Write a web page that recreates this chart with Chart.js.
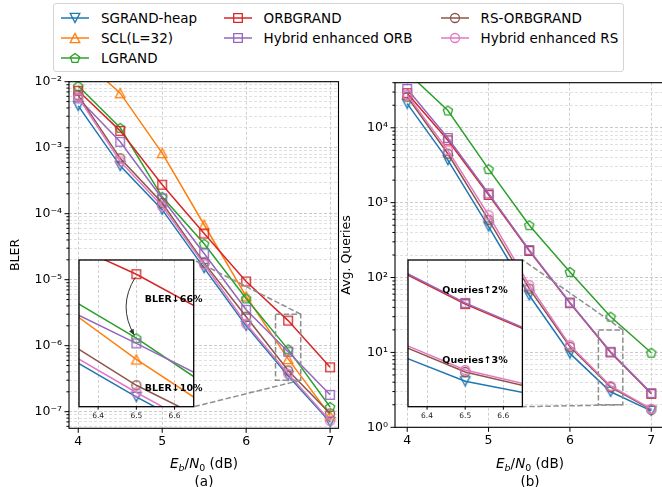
<!DOCTYPE html>
<html>
<head>
<meta charset="utf-8">
<script src="https://cdn.jsdelivr.net/npm/chart.js@4.4.1/dist/chart.umd.min.js"></script>
<style>
  html, body { margin: 0; padding: 0; background: #fff; }
  body { width: 662px; height: 487px; position: relative; overflow: hidden; font-family: "DejaVu Sans", sans-serif; color: #000; }
  canvas { position: absolute; }
  #legend { position: absolute; left: 53px; top: 3px; width: 571px; height: 69px; border: 1px solid #d4d4d4; border-radius: 3px; box-sizing: border-box; background: #fff; }
  .lg-text { position: absolute; font-size: 13.5px; line-height: 16px; white-space: nowrap; }
  .xlab { position: absolute; width: 260px; text-align: center; font-size: 13.5px; line-height: 16px; white-space: nowrap; }
  .xlab sub { font-size: 70%; vertical-align: -0.3em; line-height: 0; }
</style>
</head>
<body>
<div id="legend"></div>
<canvas id="left" width="345" height="487" style="left:0;top:0"></canvas>
<canvas id="right" width="340" height="487" style="left:330px;top:0"></canvas>
<canvas id="leftInset" width="170" height="180"></canvas>
<canvas id="rightInset" width="170" height="180"></canvas>
<div class="xlab" style="left:74px;top:455px"><i>E</i><sub><i>b</i></sub>/<i>N</i><sub>0</sub> (dB)</div>
<div class="xlab" style="left:74px;top:473px">(a)</div>
<div class="xlab" style="left:400px;top:455px"><i>E</i><sub><i>b</i></sub>/<i>N</i><sub>0</sub> (dB)</div>
<div class="xlab" style="left:400px;top:473px">(b)</div>
<script>
// Eb/N0 points (dB)
const snr = [4, 4.5, 5, 5.5, 6, 6.5, 7];

// (a) BLER
const blerSgrand = [4.3e-3, 5.3e-4, 1.15e-4, 1.5e-5, 2.0e-6, 3.5e-7, 7.0e-8];
const blerScl = [2.5e-2, 6.7e-3, 8.3e-4, 6.8e-5, 5.6e-6, 6.3e-7, 8.8e-8];
const blerLgrand = [8.6e-3, 2.0e-3, 1.8e-4, 3.5e-5, 5.2e-6, 8.8e-7, 1.18e-7];
const blerOrb = [7.3e-3, 1.8e-3, 2.75e-4, 5.0e-5, 9.4e-6, 2.4e-6, 4.7e-7];
const blerHybOrb = [5.6e-3, 1.23e-3, 1.7e-4, 2.5e-5, 3.5e-6, 8.1e-7, 1.8e-7];
const blerRsOrb = [6.2e-3, 6.9e-4, 1.45e-4, 1.8e-5, 2.75e-6, 4.2e-7, 9.4e-8];
const blerHybRs = [5.8e-3, 6.2e-4, 1.3e-4, 1.7e-5, 2.15e-6, 3.75e-7, 7.3e-8];

// (b) average number of queries
const qSgrand = [2.1e4, 3.7e3, 4.8e2, 58, 9.7, 2.98, 1.66];
const qLgrand = [5.5e4, 1.7e4, 2.8e3, 5.0e2, 119, 30, 9.9];
const qOrb = [2.9e4, 6.8e3, 1.27e3, 2.27e2, 45.5, 10.0, 2.8];
const qHybOrb = [3.3e4, 7.3e3, 1.33e3, 2.33e2, 46.5, 10.2, 2.86];
const qRsOrb = [2.6e4, 4.5e3, 5.9e2, 71, 11.9, 3.45, 1.72];
const qHybRs = [2.75e4, 5.0e3, 6.8e2, 79, 12.5, 3.56, 1.76];

// ticks
const xTicks = [4, 5, 6, 7];
const insetTicks = [6.4, 6.5, 6.6];

const series = [
  { label: 'SGRAND-heap', color: '#1f77b4', marker: 'v', bler: blerSgrand, q: qSgrand },
  { label: 'SCL(L=32)', color: '#ff7f0e', marker: '^', bler: blerScl, q: null },
  { label: 'LGRAND', color: '#2ca02c', marker: 'p', bler: blerLgrand, q: qLgrand },
  { label: 'ORBGRAND', color: '#d62728', marker: 's', bler: blerOrb, q: qOrb },
  { label: 'Hybrid enhanced ORB', color: '#9467bd', marker: 's', bler: blerHybOrb, q: qHybOrb },
  { label: 'RS-ORBGRAND', color: '#8c564b', marker: 'o', bler: blerRsOrb, q: qRsOrb },
  { label: 'Hybrid enhanced RS', color: '#e377c2', marker: 'o', bler: blerHybRs, q: qHybRs }
];

Chart.defaults.font.family = '"DejaVu Sans", sans-serif';
Chart.defaults.color = '#000';

function markerCanvas(shape, color) {
  const c = document.createElement('canvas');
  c.width = 14; c.height = 14;
  const g = c.getContext('2d');
  const m = 7;
  g.strokeStyle = color;
  g.lineWidth = 1.3;
  g.lineJoin = 'miter';
  g.beginPath();
  if (shape === 'v') {
    g.moveTo(m - 4.8, m - 4.6); g.lineTo(m + 4.8, m - 4.6); g.lineTo(m, m + 4.6); g.closePath();
  } else if (shape === '^') {
    g.moveTo(m - 4.8, m + 4.6); g.lineTo(m + 4.8, m + 4.6); g.lineTo(m, m - 4.6); g.closePath();
  } else if (shape === 's') {
    g.rect(m - 4.3, m - 4.3, 8.6, 8.6);
  } else if (shape === 'o') {
    g.arc(m, m, 4.5, 0, Math.PI * 2);
  } else if (shape === 'p') {
    for (let k = 0; k < 5; k++) {
      const a = -Math.PI / 2 + k * 2 * Math.PI / 5;
      const px = m + 4.9 * Math.cos(a), py = m + 0.4 + 4.9 * Math.sin(a);
      if (k === 0) g.moveTo(px, py); else g.lineTo(px, py);
    }
    g.closePath();
  }
  g.stroke();
  return c;
}
series.forEach(s => { s.icon = markerCanvas(s.marker, s.color); });

const SUP = { '-': '\u207b', '0': '\u2070', '1': '\u00b9', '2': '\u00b2', '3': '\u00b3', '4': '\u2074', '5': '\u2075', '6': '\u2076', '7': '\u2077', '8': '\u2078', '9': '\u2079' };
function powLabel(v) {
  const l = Math.log10(v), e = Math.round(l);
  if (Math.abs(l - e) > 1e-6) return '';
  return '10' + String(e).split('').map(c => SUP[c]).join('');
}
function logTicks(min, max) {
  const out = [];
  for (let e = Math.floor(Math.log10(min)); e <= Math.ceil(Math.log10(max)); e++) {
    for (let m = 1; m <= 9; m++) {
      const v = m * Math.pow(10, e);
      if (v >= min * 0.9999 && v <= max * 1.0001) out.push({ value: v });
    }
  }
  return out;
}

function makeDatasets(key) {
  return series.filter(s => s[key]).map((s, i, arr) => ({
    label: s.label,
    data: snr.map((x, j) => ({ x: x, y: s[key][j] })),
    borderColor: s.color,
    backgroundColor: 'transparent',
    borderWidth: 1.5,
    pointStyle: s.icon,
    pointRadius: 5,
    pointHoverRadius: 5,
    tension: 0,
    fill: false,
    clip: 0,
    order: arr.length - i
  }));
}

// frame, tick marks, optional white background
const framePlugin = {
  id: 'frame',
  beforeDraw(chart, args, o) {
    if (!o.fill) return;
    const a = chart.chartArea, ctx = chart.ctx;
    ctx.save(); ctx.fillStyle = '#fff'; ctx.fillRect(a.left, a.top, a.width, a.height); ctx.restore();
  },
  afterDraw(chart, args, o) {
    const { ctx, chartArea: a, scales } = chart;
    ctx.save();
    ctx.strokeStyle = '#000';
    ctx.lineWidth = 1;
    ctx.beginPath();
    scales.x.ticks.forEach(t => {
      const p = scales.x.getPixelForValue(t.value);
      ctx.moveTo(p, a.bottom); ctx.lineTo(p, a.bottom + o.major);
    });
    if (scales.y.options.display) {
      scales.y.ticks.forEach(t => {
        const p = scales.y.getPixelForValue(t.value);
        const len = powLabel(t.value) ? o.major : o.minor;
        ctx.moveTo(a.left, p); ctx.lineTo(a.left - len, p);
      });
    }
    ctx.stroke();
    ctx.lineWidth = o.frameWidth;
    ctx.strokeRect(a.left, a.top, a.width, a.height);
    ctx.restore();
  }
};

// dashed zoom rectangle plus connector lines to the inset
const zoomPlugin = {
  id: 'zoomBox',
  afterDatasetsDraw(chart, args, o) {
    if (!o.box) return;
    const { ctx, scales: { x, y } } = chart;
    const x0 = x.getPixelForValue(o.box.x0), x1 = x.getPixelForValue(o.box.x1);
    const yb = y.getPixelForValue(o.box.y0), yt = y.getPixelForValue(o.box.y1);
    ctx.save();
    ctx.strokeStyle = '#8f8f8f';
    ctx.lineWidth = 1.5;
    ctx.setLineDash([5.5, 2.5]);
    ctx.strokeRect(x0, yt, x1 - x0, yb - yt);
    const ix = o.inset.right - o.offsetX;
    ctx.beginPath();
    ctx.moveTo(x1, yt); ctx.lineTo(ix, o.inset.top);
    ctx.moveTo(x1, yb); ctx.lineTo(ix, o.inset.bottom);
    ctx.stroke();
    ctx.restore();
  }
};

// annotation text and arrow inside insets
const notePlugin = {
  id: 'notes',
  afterDatasetsDraw(chart, args, o) {
    const { ctx, scales: { x, y } } = chart;
    ctx.save();
    if (o.arrow) {
      const px = x.getPixelForValue(o.arrow.x);
      const y0 = y.getPixelForValue(o.arrow.from) + 3;
      const y1 = y.getPixelForValue(o.arrow.to) - 3;
      const cx = px - 19, cy = (y0 + y1) / 2;
      ctx.strokeStyle = '#333'; ctx.fillStyle = '#333'; ctx.lineWidth = 1;
      ctx.beginPath(); ctx.moveTo(px - 1, y0); ctx.quadraticCurveTo(cx, cy, px - 2, y1); ctx.stroke();
      const ang = Math.atan2(y1 - cy, px - 2 - cx);
      ctx.beginPath();
      ctx.moveTo(px - 2, y1);
      ctx.lineTo(px - 2 - 6 * Math.cos(ang) + 2.6 * Math.sin(ang), y1 - 6 * Math.sin(ang) - 2.6 * Math.cos(ang));
      ctx.lineTo(px - 2 - 6 * Math.cos(ang) - 2.6 * Math.sin(ang), y1 - 6 * Math.sin(ang) + 2.6 * Math.cos(ang));
      ctx.closePath(); ctx.fill();
    }
    ctx.fillStyle = '#000';
    ctx.font = 'bold 9.5px "DejaVu Sans"';
    ctx.textBaseline = 'middle';
    ctx.textAlign = 'left';
    (o.texts || []).forEach(t => ctx.fillText(t.text, x.getPixelForValue(t.x), y.getPixelForValue(t.y)));
    ctx.restore();
  }
};

const gridColor = c => (c.tick && powLabel(c.tick.value)) ? '#bcbcbc' : '#d8d8d8';

function mainChart(id, key, cfg) {
  return new Chart(document.getElementById(id), {
    type: 'line',
    data: { datasets: makeDatasets(key) },
    options: {
      animation: false, responsive: false, devicePixelRatio: 1,
      events: [],
      layout: { padding: cfg.padding },
      plugins: {
        legend: { display: false }, tooltip: { enabled: false },
        frame: { major: 4.5, minor: 2.6, frameWidth: 1.1 },
        zoomBox: cfg.zoom
      },
      scales: {
        x: {
          type: 'linear', min: cfg.xmin, max: cfg.xmax, bounds: 'data',
          afterBuildTicks: s => { s.ticks = xTicks.map(v => ({ value: v })); },
          afterFit: s => { s.height = cfg.xHeight; },
          ticks: { autoSkip: false, maxRotation: 0, padding: 6, font: { size: 12.5 }, callback: v => String(v) },
          grid: { color: '#c4c4c4', lineWidth: 0.8, drawTicks: false },
          border: { display: false, dash: [3, 2] }
        },
        y: {
          type: 'logarithmic', min: cfg.ymin, max: cfg.ymax, bounds: 'data',
          afterBuildTicks: s => { s.ticks = logTicks(cfg.ymin, cfg.ymax); },
          afterFit: s => { s.width = cfg.yWidth; },
          ticks: { autoSkip: false, padding: 7, font: { size: 12.5 }, callback: v => powLabel(v) },
          grid: { color: gridColor, lineWidth: 0.8, drawTicks: false },
          border: { display: false, dash: [3, 2] },
          title: { display: true, text: cfg.ytitle, font: { size: 12.5 }, padding: { top: cfg.titlePad, bottom: 0 } }
        }
      }
    },
    plugins: [framePlugin, zoomPlugin]
  });
}

function insetChart(id, key, box, cfg) {
  const cv = document.getElementById(id);
  const cl = box.left - 10, ct = box.top - 10;
  cv.style.left = cl + 'px'; cv.style.top = ct + 'px';
  return new Chart(cv, {
    type: 'line',
    data: { datasets: makeDatasets(key) },
    options: {
      animation: false, responsive: false, devicePixelRatio: 1,
      events: [],
      layout: { padding: { left: 10, top: 10, right: 170 - 10 - (box.right - box.left), bottom: 0 } },
      plugins: {
        legend: { display: false }, tooltip: { enabled: false },
        frame: { fill: true, major: 3, minor: 2, frameWidth: 1.3 },
        notes: cfg.notes
      },
      scales: {
        x: {
          type: 'linear', min: 6.35, max: 6.65, bounds: 'data',
          afterBuildTicks: s => { s.ticks = insetTicks.map(v => ({ value: v })); },
          afterFit: s => { s.height = 180 - 10 - (box.bottom - box.top); },
          ticks: { autoSkip: false, maxRotation: 0, padding: 5, font: { size: 7.5 }, color: '#222', callback: v => v.toFixed(1) },
          grid: { color: '#c4c4c4', lineWidth: 0.8, drawTicks: false },
          border: { display: false, dash: [3, 2] }
        },
        y: { type: 'logarithmic', min: cfg.ymin, max: cfg.ymax, bounds: 'data', display: false }
      }
    },
    plugins: [framePlugin, notePlugin]
  });
}

const leftBox = { left: 79.3, right: 194, top: 260, bottom: 406.7 };
const rightBox = { left: 408.3, right: 522.7, top: 260, bottom: 406.7 };

mainChart('left', 'bler', {
  padding: { left: 0, top: 81.7, right: 5.7, bottom: 0 },
  xmin: 3.89, xmax: 7.1, ymin: 5.6e-8, ymax: 1e-2,
  xHeight: 487 - 428.3, yWidth: 69, ytitle: 'BLER', titlePad: 8.5,
  zoom: { box: { x0: 6.35, x1: 6.65, y0: 3e-7, y1: 3e-6 }, inset: leftBox, offsetX: 0 }
});
mainChart('right', 'q', {
  padding: { left: 0, top: 82.7, right: 4.4, bottom: 0 },
  xmin: 3.85, xmax: 7.15, ymin: 1, ymax: 4e4,
  xHeight: 487 - 427.3, yWidth: 65, ytitle: 'Avg. Queries', titlePad: 9.5,
  zoom: { box: { x0: 6.35, x1: 6.65, y0: 2, y1: 20 }, inset: rightBox, offsetX: 330 }
});

insetChart('leftInset', 'bler', leftBox, {
  ymin: 3e-7, ymax: 3e-6,
  notes: {
    arrow: { x: 6.5, from: blerOrb[5], to: blerLgrand[5] },
    texts: [{ text: 'BLER\u219366%', x: 6.522, y: 1.62e-6 }, { text: 'BLER\u219310%', x: 6.522, y: 3.97e-7 }]
  }
});
insetChart('rightInset', 'q', rightBox, {
  ymin: 2, ymax: 20,
  notes: {
    texts: [{ text: 'Queries\u21912%', x: 6.44, y: 12.3 }, { text: 'Queries\u21913%', x: 6.44, y: 4.16 }]
  }
});

// figure legend, 3 columns
const legend = document.getElementById('legend');
const legLeft = 53, legTop = 3;
const colX = [100, 262.5, 479.6];
const rowY = [18.3, 38.3, 58.3];
const slots = [[0, 0], [0, 1], [0, 2], [1, 0], [1, 1], [2, 0], [2, 1]];
series.forEach((s, i) => {
  const [c, r] = slots[i];
  const ic = document.createElement('canvas');
  ic.width = 28; ic.height = 14;
  ic.style.left = (colX[c] - 40 - legLeft) + 'px';
  ic.style.top = (rowY[r] - 7 - legTop - 1) + 'px';
  const g = ic.getContext('2d');
  g.strokeStyle = s.color; g.lineWidth = 1.5;
  g.beginPath(); g.moveTo(0, 7); g.lineTo(28, 7); g.stroke();
  g.drawImage(s.icon, 7, 0);
  legend.appendChild(ic);
  const t = document.createElement('div');
  t.className = 'lg-text';
  t.textContent = s.label;
  t.style.left = (colX[c] - legLeft) + 'px';
  t.style.top = (rowY[r] - 8 - legTop - 1) + 'px';
  legend.appendChild(t);
});
</script>
</body>
</html>
